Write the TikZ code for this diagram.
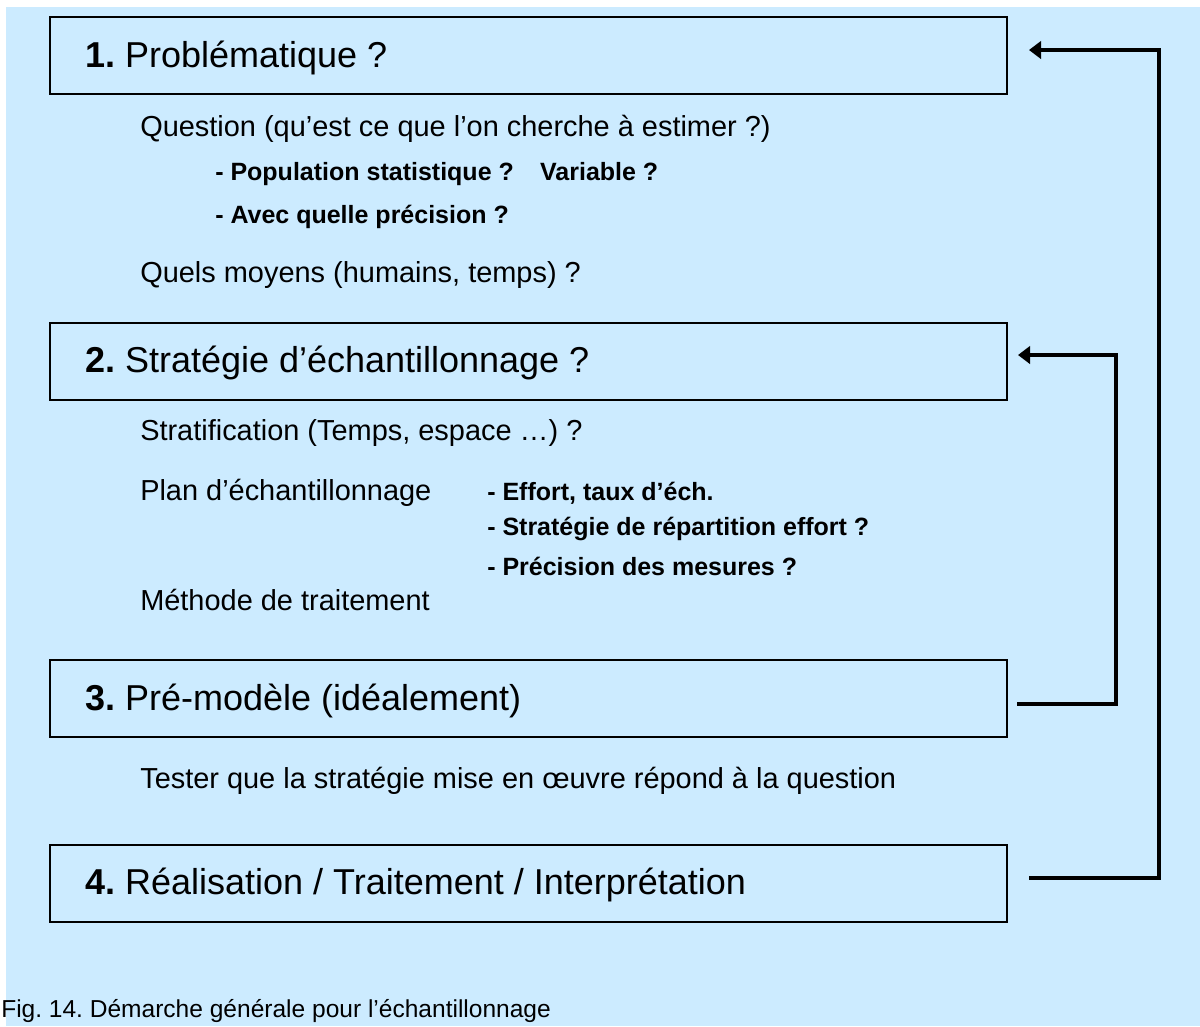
\documentclass[tikz,border=0pt]{standalone}
\usepackage{fontspec}
\setmainfont{Liberation Sans}
\usetikzlibrary{arrows.meta}
\definecolor{fond}{RGB}{204,235,255}
\frenchspacing
\begin{document}
\begin{tikzpicture}[x=.75pt, y=-.75pt, >={Triangle[length=9pt,width=13pt]},
  etape/.style={draw, line width=1.5pt, minimum width=717.75pt, minimum height=57.75pt,
    inner xsep=26.25pt, inner ysep=0pt,
    font=\fontsize{27}{31}\selectfont, text height=20pt, text depth=2.5pt},
  txt/.style={anchor=base west, inner sep=0pt, font=\fontsize{21.7}{26}\selectfont},
  sous/.style={txt, font=\fontsize{18.75}{22}\selectfont\bfseries},
  retour/.style={->, line width=2.4pt}]
\useasboundingbox (0,0) rectangle (1200,1026);
\fill[fond] (6,7) rectangle (1200,1026);
% etapes
\node[etape] (b1) at (528.5,55.5) {\makebox[665.25pt][l]{\textbf{1.} Problématique ?}};
\node[etape] (b2) at (528.5,361) {\makebox[665.25pt][l]{\textbf{2.} Stratégie d’échantillonnage ?}};
\node[etape] (b3) at (528.5,698.5) {\makebox[665.25pt][l]{\textbf{3.} Pré-modèle (idéalement)}};
\node[etape] (b4) at (528.5,883) {\makebox[665.25pt][l]{\textbf{4.} Réalisation / Traitement / Interprétation}};
% textes
\node[txt] (q1) at (140,136) {Question (qu’est ce que l’on cherche à estimer ?)};
\node[sous] (q2) at (215,180) {- Population statistique ?\hspace{1.05em}Variable ?};
\node[sous] (q3) at (215,223) {- Avec quelle précision ?};
\node[txt] (q4) at (140,282) {Quels moyens (humains, temps) ?};
\node[txt] (s1) at (140,440) {Stratification (Temps, espace …) ?};
\node[txt] (s2) at (140,500) {Plan d’échantillonnage};
\node[sous] (s3) at (487,500) {- Effort, taux d’éch.};
\node[sous] (s4) at (487,535) {- Stratégie de répartition effort ?};
\node[sous] (s5) at (487,575) {- Précision des mesures ?};
\node[txt] (s6) at (140,610) {Méthode de traitement};
\node[txt] (t1) at (140,788) {Tester que la stratégie mise en œuvre répond à la question};
\node[anchor=base west, inner sep=0pt, font=\fontsize{18.4}{22}\selectfont] (fig) at (1,1017)
  {Fig. 14. Démarche générale pour l’échantillonnage};
% retours
\coordinate (r1) at (1159,0); \coordinate (r2) at (1116,0);
\coordinate (d4) at (1029,878); \coordinate (a1) at (1029,50);
\coordinate (d3) at (1017,704); \coordinate (a2) at (1018,355);
\draw[retour] (d4) -| (r1 |- a1) -- (a1);
\draw[retour] (d3) -| (r2 |- a2) -- (a2);
\end{tikzpicture}
\end{document}
